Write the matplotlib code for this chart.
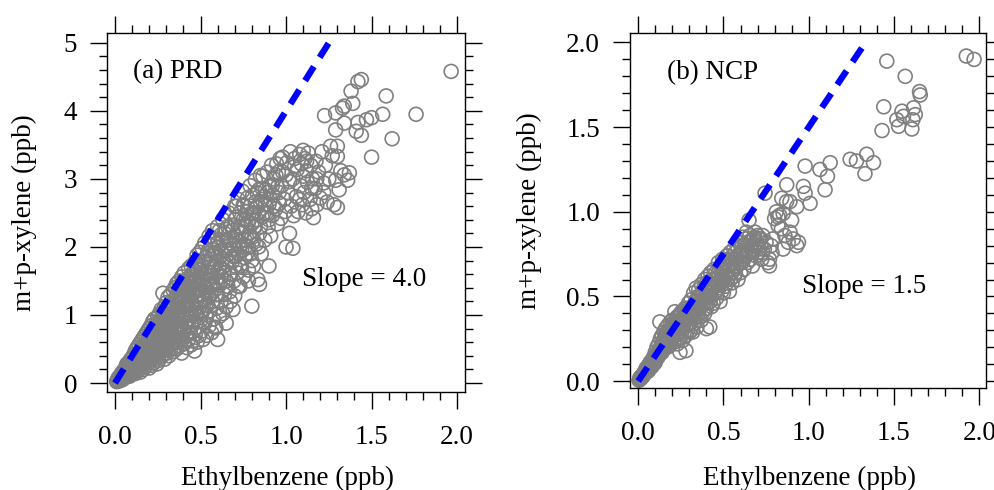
import matplotlib
matplotlib.use('Agg')
import matplotlib.pyplot as plt
from matplotlib.ticker import MultipleLocator, FormatStrFormatter

plt.rcParams['font.family'] = ['Liberation Serif', 'DejaVu Serif']

# (ethylbenzene, m+p-xylene) pairs, ppb
prd_points = [
    (0.01, 0.02), (0.015, 0.05), (0.02, 0.04), (0.02, 0.08), (0.025, 0.03), (0.03, 0.1),
    (0.03, 0.06), (0.035, 0.12), (0.04, 0.08), (0.04, 0.15), (0.045, 0.05), (0.045, 0.11),
    (0.05, 0.18), (0.05, 0.09), (0.012, 0.03), (0.028, 0.07), (0.038, 0.1), (0.048, 0.14),
    (0.055, 0.12), (0.06, 0.2), (0.06, 0.1), (0.065, 0.25), (0.07, 0.15), (0.07, 0.28),
    (0.075, 0.12), (0.075, 0.21), (0.08, 0.3), (0.08, 0.17), (0.085, 0.1), (0.085, 0.24),
    (0.09, 0.34), (0.09, 0.19), (0.095, 0.14), (0.095, 0.28), (0.1, 0.37), (0.1, 0.22),
    (0.1, 0.13), (0.058, 0.16), (0.068, 0.09), (0.078, 0.26), (0.088, 0.15), (0.098, 0.31),
    (0.105, 0.3), (0.105, 0.16), (0.11, 0.42), (0.11, 0.25), (0.115, 0.19), (0.115, 0.35),
    (0.12, 0.48), (0.12, 0.28), (0.12, 0.14), (0.125, 0.38), (0.125, 0.22), (0.13, 0.52),
    (0.13, 0.32), (0.13, 0.18), (0.135, 0.44), (0.135, 0.26), (0.14, 0.56), (0.14, 0.36),
    (0.14, 0.2), (0.145, 0.3), (0.145, 0.47), (0.15, 0.6), (0.15, 0.4), (0.15, 0.24),
    (0.148, 0.16), (0.155, 0.33), (0.155, 0.52), (0.16, 0.64), (0.16, 0.27), (0.16, 0.44),
    (0.165, 0.2), (0.165, 0.37), (0.17, 0.56), (0.17, 0.3), (0.17, 0.68), (0.175, 0.47),
    (0.175, 0.24), (0.18, 0.4), (0.18, 0.72), (0.18, 0.6), (0.185, 0.33), (0.185, 0.52),
    (0.19, 0.27), (0.19, 0.76), (0.19, 0.45), (0.195, 0.64), (0.195, 0.36), (0.2, 0.8),
    (0.2, 0.55), (0.2, 0.3), (0.2, 0.22), (0.205, 0.42), (0.205, 0.68), (0.21, 0.84),
    (0.21, 0.34), (0.21, 0.58), (0.215, 0.26), (0.215, 0.48), (0.22, 0.74), (0.22, 0.9),
    (0.22, 0.38), (0.225, 0.62), (0.225, 0.3), (0.23, 0.52), (0.23, 0.94), (0.23, 0.8),
    (0.235, 0.44), (0.235, 0.68), (0.24, 0.36), (0.24, 0.58), (0.24, 0.88), (0.245, 0.28),
    (0.245, 0.75), (0.25, 0.98), (0.25, 0.5), (0.25, 0.64), (0.25, 0.4), (0.255, 0.82),
    (0.255, 0.33), (0.26, 0.56), (0.26, 1.02), (0.26, 0.7), (0.265, 0.45), (0.265, 0.9),
    (0.27, 0.38), (0.27, 0.62), (0.27, 1.08), (0.275, 0.78), (0.275, 0.5), (0.28, 0.96),
    (0.28, 1.32), (0.28, 0.68), (0.28, 0.42), (0.285, 0.86), (0.285, 0.56), (0.29, 1.12),
    (0.29, 0.74), (0.29, 0.35), (0.295, 0.48), (0.295, 1.0), (0.3, 0.64), (0.3, 0.9),
    (0.3, 1.18), (0.3, 0.78), (0.305, 0.44), (0.305, 1.06), (0.31, 0.72), (0.31, 0.56),
    (0.31, 1.26), (0.315, 0.9), (0.315, 0.4), (0.32, 1.14), (0.32, 0.64), (0.32, 0.82),
    (0.325, 0.5), (0.325, 1.3), (0.33, 0.98), (0.33, 0.7), (0.33, 1.2), (0.335, 0.58),
    (0.335, 0.86), (0.34, 1.36), (0.34, 0.46), (0.34, 1.04), (0.345, 0.76), (0.345, 0.62),
    (0.35, 1.24), (0.35, 0.92), (0.35, 1.4), (0.35, 0.52), (0.355, 0.68), (0.355, 1.1),
    (0.36, 0.84), (0.36, 1.46), (0.36, 0.5), (0.365, 1.0), (0.365, 1.3), (0.37, 0.6),
    (0.37, 0.76), (0.37, 1.18), (0.375, 1.5), (0.375, 0.92), (0.38, 0.55), (0.38, 1.36),
    (0.38, 1.06), (0.385, 0.72), (0.385, 1.24), (0.39, 0.44), (0.39, 0.86), (0.39, 1.56),
    (0.395, 1.12), (0.395, 0.64), (0.4, 1.42), (0.4, 0.98), (0.4, 0.78), (0.4, 1.28),
    (0.405, 0.58), (0.405, 1.62), (0.41, 1.16), (0.41, 0.88), (0.415, 0.7), (0.415, 1.34),
    (0.42, 1.5), (0.42, 1.02), (0.42, 0.52), (0.425, 0.8), (0.425, 1.22), (0.43, 1.68),
    (0.43, 0.64), (0.43, 1.4), (0.435, 0.94), (0.435, 1.1), (0.44, 1.56), (0.44, 0.74),
    (0.44, 1.28), (0.445, 0.56), (0.445, 1.72), (0.45, 1.0), (0.45, 1.46), (0.45, 0.84),
    (0.45, 1.18), (0.455, 0.62), (0.455, 1.62), (0.46, 1.32), (0.46, 0.9), (0.465, 0.47),
    (0.465, 1.08), (0.47, 1.78), (0.47, 0.72), (0.47, 1.5), (0.475, 1.2), (0.475, 0.98),
    (0.48, 1.88), (0.48, 0.6), (0.48, 1.4), (0.485, 0.82), (0.485, 1.66), (0.49, 1.1),
    (0.49, 1.28), (0.495, 0.7), (0.495, 1.92), (0.5, 1.54), (0.5, 0.92), (0.5, 1.36),
    (0.5, 1.2), (0.505, 1.74), (0.505, 0.76), (0.51, 1.04), (0.51, 1.98), (0.515, 1.44),
    (0.515, 0.64), (0.52, 1.22), (0.52, 1.62), (0.525, 0.88), (0.525, 2.06), (0.53, 1.34),
    (0.53, 1.84), (0.535, 1.0), (0.535, 0.7), (0.54, 1.52), (0.54, 1.14), (0.545, 1.94),
    (0.545, 1.7), (0.55, 0.84), (0.55, 2.16), (0.55, 1.28), (0.555, 1.42), (0.555, 1.06),
    (0.56, 1.82), (0.56, 2.02), (0.565, 0.74), (0.565, 1.58), (0.57, 1.2), (0.57, 2.24),
    (0.575, 0.94), (0.575, 1.7), (0.58, 1.36), (0.58, 1.92), (0.585, 0.82), (0.585, 2.1),
    (0.59, 1.5), (0.59, 0.81), (0.595, 1.1), (0.595, 1.78), (0.6, 2.3), (0.6, 0.64),
    (0.6, 1.3), (0.6, 1.62), (0.605, 2.0), (0.61, 1.44), (0.61, 0.98), (0.615, 1.86),
    (0.62, 2.18), (0.62, 1.2), (0.625, 1.68), (0.63, 2.4), (0.63, 1.02), (0.635, 1.52),
    (0.64, 1.96), (0.64, 1.3), (0.645, 2.26), (0.65, 0.88), (0.65, 1.74), (0.65, 1.12),
    (0.655, 2.1), (0.66, 1.42), (0.665, 2.5), (0.67, 1.6), (0.67, 1.9), (0.675, 1.2),
    (0.68, 2.32), (0.685, 1.78), (0.69, 1.08), (0.69, 2.02), (0.695, 1.5), (0.7, 2.6),
    (0.7, 1.28), (0.7, 2.16), (0.705, 1.86), (0.71, 2.44), (0.715, 1.62), (0.72, 1.42),
    (0.72, 2.7), (0.725, 2.08), (0.73, 1.72), (0.735, 2.3), (0.74, 1.96), (0.745, 2.82),
    (0.75, 1.56), (0.75, 2.22), (0.73, 1.42), (0.755, 2.6), (0.76, 1.84), (0.765, 2.4),
    (0.77, 2.02), (0.775, 2.72), (0.78, 1.66), (0.785, 2.2), (0.79, 2.9), (0.795, 1.9),
    (0.8, 1.13), (0.8, 2.5), (0.8, 2.14), (0.78, 1.5), (0.805, 2.76), (0.81, 1.72),
    (0.815, 2.3), (0.82, 2.98), (0.825, 2.04), (0.83, 2.58), (0.835, 1.52), (0.84, 2.84),
    (0.845, 1.45), (0.845, 2.2), (0.85, 2.66), (0.85, 3.05), (0.855, 1.9), (0.86, 2.44),
    (0.865, 3.04), (0.87, 2.74), (0.875, 2.1), (0.88, 2.84), (0.885, 2.5), (0.89, 3.1),
    (0.895, 2.3), (0.9, 1.72), (0.9, 2.62), (0.905, 2.9), (0.91, 2.16), (0.915, 3.2),
    (0.92, 2.46), (0.925, 2.76), (0.93, 3.0), (0.94, 2.56), (0.945, 3.22), (0.95, 2.34),
    (0.95, 2.88), (0.955, 3.1), (0.96, 2.64), (0.965, 3.3), (0.97, 2.42), (0.975, 2.9),
    (0.98, 3.32), (0.99, 2.7), (1.0, 2.0), (1.0, 3.06), (0.995, 2.52), (1.005, 3.24),
    (1.01, 2.8), (1.02, 2.2), (1.025, 3.4), (1.03, 2.6), (1.04, 1.98), (1.04, 3.0),
    (1.045, 2.46), (1.05, 3.3), (1.06, 2.74), (1.065, 3.14), (1.07, 2.52), (1.08, 3.36),
    (1.085, 2.9), (1.09, 3.22), (1.095, 2.62), (1.1, 3.04), (1.1, 3.42), (1.105, 2.8),
    (1.11, 3.3), (1.115, 2.5), (1.12, 3.12), (1.125, 2.95), (1.13, 3.38), (1.14, 2.7),
    (1.145, 3.2), (1.15, 2.56), (1.155, 3.0), (1.16, 2.43), (1.17, 2.86), (1.175, 3.26),
    (1.18, 2.62), (1.19, 3.1), (1.2, 2.72), (1.21, 3.4), (1.22, 2.94), (1.23, 3.2),
    (1.24, 2.66), (1.25, 3.0), (1.27, 3.34), (1.28, 2.62), (1.29, 2.98), (1.3, 2.58),
    (1.31, 2.84), (1.32, 3.12), (1.34, 3.06), (1.36, 2.98), (1.37, 3.09), (1.26, 3.48),
    (1.30, 3.48), (1.30, 3.33), (1.29, 3.72), (1.225, 3.93), (1.29, 3.97), (1.33, 4.04),
    (1.34, 4.07), (1.39, 4.11), (1.34, 3.82), (1.42, 3.83), (1.47, 3.87), (1.50, 3.90),
    (1.565, 3.95), (1.76, 3.95), (1.41, 3.70), (1.44, 3.64), (1.62, 3.59), (1.50, 3.32),
    (1.38, 4.29), (1.42, 4.43), (1.44, 4.46), (1.585, 4.22), (1.965, 4.58),
    (0.16, 0.5), (0.17, 0.42), (0.18, 0.5), (0.19, 0.58), (0.2, 0.68), (0.21, 0.72),
    (0.22, 0.56), (0.22, 0.66), (0.23, 0.6), (0.24, 0.7), (0.24, 0.48), (0.25, 0.86),
    (0.26, 0.78), (0.26, 0.62), (0.27, 0.86), (0.27, 0.72), (0.28, 0.56), (0.28, 1.04),
    (0.29, 0.88), (0.29, 0.62), (0.3, 0.98), (0.3, 0.52), (0.31, 1.12), (0.31, 0.84),
    (0.32, 0.96), (0.32, 0.72), (0.33, 1.08), (0.33, 0.8), (0.34, 1.16), (0.34, 0.9),
    (0.35, 0.8), (0.35, 1.06), (0.36, 1.2), (0.36, 0.94), (0.37, 1.38), (0.37, 1.06),
    (0.38, 0.82), (0.38, 1.2), (0.39, 1.3), (0.39, 1.0), (0.4, 1.5), (0.4, 1.14),
    (0.41, 1.26), (0.41, 1.42), (0.42, 0.9), (0.42, 1.14), (0.43, 1.3), (0.43, 1.54),
    (0.44, 1.02), (0.44, 1.4), (0.45, 1.6), (0.45, 1.3), (0.46, 1.5), (0.46, 1.14),
    (0.47, 1.38), (0.47, 1.64), (0.48, 1.04), (0.48, 1.28), (0.49, 1.5), (0.49, 1.76),
    (0.5, 1.04), (0.5, 1.66), (0.51, 1.3), (0.51, 1.52), (0.52, 1.78), (0.52, 1.4),
    (0.53, 1.14), (0.53, 1.6), (0.54, 1.9), (0.54, 1.32), (0.55, 1.5), (0.55, 1.78),
    (0.56, 1.3), (0.56, 1.62), (0.57, 1.96), (0.57, 1.44), (0.58, 1.7), (0.58, 2.12),
    (0.59, 1.3), (0.59, 1.9), (0.6, 1.48), (0.6, 2.06), (0.61, 1.7), (0.61, 2.24),
    (0.62, 1.56), (0.62, 1.94), (0.63, 1.82), (0.63, 2.1), (0.64, 1.66), (0.64, 2.2),
    (0.65, 1.96), (0.65, 1.5), (0.66, 2.3), (0.66, 1.8), (0.67, 2.06), (0.67, 1.34),
    (0.68, 1.96), (0.68, 1.6), (0.69, 2.24), (0.69, 1.86), (0.7, 2.4), (0.7, 1.72),
    (0.71, 2.1), (0.71, 2.6), (0.72, 1.9), (0.72, 2.3), (0.73, 2.5), (0.73, 2.0),
    (0.74, 2.2), (0.74, 1.7), (0.75, 2.4), (0.75, 2.62), (0.76, 2.1), (0.76, 2.3),
    (0.77, 2.52), (0.77, 1.9), (0.78, 2.36), (0.78, 2.0), (0.79, 2.6), (0.79, 2.16),
    (0.8, 2.34), (0.8, 1.8), (0.81, 2.5), (0.81, 2.1), (0.82, 2.66), (0.82, 2.3),
    (0.83, 2.4), (0.83, 2.8), (0.84, 2.0), (0.84, 2.5), (0.85, 2.3), (0.86, 2.7),
    (0.86, 2.86), (0.87, 2.5), (0.88, 2.62), (0.89, 2.8), (0.9, 2.4), (0.91, 2.7),
    (0.92, 2.9), (0.93, 2.6), (0.94, 3.06), (0.96, 2.8), (0.98, 3.1), (1.02, 2.96),
    (1.05, 3.18), (1.08, 2.7), (1.12, 3.26), (1.15, 2.86), (1.18, 3.0), (1.22, 2.8),
]

ncp_points = [
    (0.005, 0.005), (0.01, 0.01), (0.01, 0.02), (0.015, 0.015), (0.02, 0.03), (0.02, 0.02),
    (0.025, 0.035), (0.03, 0.04), (0.03, 0.03), (0.035, 0.05), (0.04, 0.06), (0.04, 0.045),
    (0.045, 0.07), (0.05, 0.06), (0.05, 0.08), (0.055, 0.075), (0.06, 0.09), (0.06, 0.06),
    (0.065, 0.1), (0.07, 0.08), (0.07, 0.11), (0.075, 0.095), (0.08, 0.12), (0.08, 0.085),
    (0.085, 0.13), (0.09, 0.1), (0.09, 0.14), (0.095, 0.12), (0.1, 0.15), (0.1, 0.11),
    (0.1, 0.17), (0.105, 0.13), (0.11, 0.16), (0.11, 0.2), (0.115, 0.14), (0.12, 0.18),
    (0.12, 0.22), (0.125, 0.16), (0.127, 0.35), (0.13, 0.2), (0.13, 0.25), (0.135, 0.18),
    (0.14, 0.22), (0.14, 0.27), (0.145, 0.2), (0.15, 0.24), (0.15, 0.29), (0.15, 0.19),
    (0.155, 0.22), (0.16, 0.27), (0.16, 0.31), (0.165, 0.24), (0.17, 0.2), (0.17, 0.29),
    (0.175, 0.33), (0.18, 0.26), (0.18, 0.23), (0.185, 0.3), (0.19, 0.35), (0.19, 0.27),
    (0.195, 0.24), (0.2, 0.32), (0.2, 0.28), (0.2, 0.36), (0.205, 0.26), (0.21, 0.3),
    (0.215, 0.41), (0.215, 0.34), (0.22, 0.27), (0.225, 0.37), (0.23, 0.31), (0.23, 0.22),
    (0.235, 0.35), (0.24, 0.39), (0.24, 0.29), (0.245, 0.33), (0.25, 0.36), (0.25, 0.26),
    (0.245, 0.17), (0.255, 0.41), (0.26, 0.3), (0.265, 0.38), (0.27, 0.34), (0.28, 0.18),
    (0.275, 0.43), (0.28, 0.37), (0.28, 0.27), (0.285, 0.4), (0.29, 0.33), (0.295, 0.46),
    (0.3, 0.38), (0.3, 0.29), (0.3, 0.42), (0.305, 0.34), (0.31, 0.48), (0.315, 0.4),
    (0.32, 0.29), (0.32, 0.44), (0.325, 0.52), (0.33, 0.37), (0.335, 0.47), (0.34, 0.42),
    (0.34, 0.55), (0.345, 0.32), (0.35, 0.45), (0.35, 0.5), (0.35, 0.39), (0.355, 0.54),
    (0.36, 0.43), (0.365, 0.48), (0.37, 0.36), (0.37, 0.57), (0.375, 0.51), (0.38, 0.45),
    (0.385, 0.55), (0.39, 0.4), (0.39, 0.6), (0.395, 0.49), (0.4, 0.31), (0.4, 0.53),
    (0.4, 0.58), (0.405, 0.46), (0.41, 0.62), (0.415, 0.52), (0.42, 0.32), (0.42, 0.57),
    (0.425, 0.64), (0.43, 0.5), (0.435, 0.6), (0.44, 0.46), (0.44, 0.55), (0.445, 0.66),
    (0.45, 0.52), (0.45, 0.6), (0.455, 0.64), (0.46, 0.49), (0.465, 0.58), (0.47, 0.7),
    (0.47, 0.54), (0.475, 0.62), (0.48, 0.47), (0.485, 0.67), (0.49, 0.57), (0.495, 0.72),
    (0.5, 0.6), (0.5, 0.52), (0.5, 0.66), (0.505, 0.7), (0.51, 0.56), (0.515, 0.64),
    (0.52, 0.74), (0.525, 0.6), (0.53, 0.68), (0.535, 0.53), (0.54, 0.76), (0.545, 0.64),
    (0.55, 0.72), (0.55, 0.58), (0.555, 0.66), (0.56, 0.78), (0.565, 0.62), (0.57, 0.72),
    (0.575, 0.68), (0.58, 0.8), (0.585, 0.6), (0.59, 0.75), (0.595, 0.7), (0.6, 0.64),
    (0.6, 0.82), (0.605, 0.76), (0.61, 0.7), (0.615, 0.85), (0.62, 0.66), (0.625, 0.8),
    (0.63, 0.74), (0.635, 0.88), (0.64, 0.7), (0.645, 0.82), (0.65, 0.76), (0.65, 0.95),
    (0.655, 0.86), (0.66, 0.72), (0.665, 0.8), (0.67, 0.68), (0.675, 0.84), (0.68, 0.78),
    (0.685, 0.88), (0.69, 0.74), (0.695, 0.82), (0.7, 0.86), (0.7, 0.8), (0.705, 0.76),
    (0.71, 0.84), (0.72, 0.8), (0.725, 0.72), (0.73, 0.86), (0.74, 0.78), (0.744, 1.11),
    (0.75, 0.82), (0.76, 0.7), (0.77, 0.68), (0.77, 0.72), (0.78, 0.8), (0.785, 0.76),
    (0.79, 0.84), (0.8, 0.96), (0.81, 1.0), (0.82, 0.92), (0.82, 0.97), (0.83, 0.98),
    (0.84, 0.9), (0.842, 1.08), (0.85, 0.78), (0.85, 0.99), (0.86, 0.86), (0.871, 1.16),
    (0.87, 1.06), (0.89, 1.06), (0.88, 0.82), (0.89, 0.88), (0.9, 0.95), (0.91, 0.84),
    (0.93, 1.03), (0.93, 0.8), (0.94, 0.82), (0.969, 1.15), (0.979, 1.11), (0.979, 1.27),
    (1.008, 1.05), (1.066, 1.25), (1.11, 1.21), (1.126, 1.29), (1.096, 1.13), (1.243, 1.31),
    (1.28, 1.30), (1.34, 1.34), (1.38, 1.29), (1.33, 1.225), (1.43, 1.48), (1.44, 1.62),
    (1.458, 1.89), (1.566, 1.80), (1.65, 1.71), (1.654, 1.69), (1.517, 1.544), (1.547, 1.594),
    (1.556, 1.564), (1.527, 1.505), (1.615, 1.614), (1.625, 1.574), (1.611, 1.544), (1.605, 1.489),
    (1.924, 1.92), (1.97, 1.90),
    (0.12, 0.15), (0.13, 0.17), (0.14, 0.17), (0.15, 0.21), (0.16, 0.2), (0.165, 0.28),
    (0.17, 0.24), (0.18, 0.3), (0.185, 0.21), (0.19, 0.31), (0.2, 0.25), (0.21, 0.35),
    (0.21, 0.23), (0.22, 0.32), (0.23, 0.28), (0.23, 0.38), (0.24, 0.26), (0.25, 0.31),
    (0.25, 0.4), (0.26, 0.35), (0.26, 0.24), (0.27, 0.4), (0.27, 0.29), (0.28, 0.33),
    (0.29, 0.43), (0.29, 0.3), (0.3, 0.34), (0.31, 0.37), (0.31, 0.3), (0.32, 0.4),
    (0.33, 0.44), (0.33, 0.34), (0.34, 0.38), (0.35, 0.42), (0.36, 0.5), (0.36, 0.38),
    (0.37, 0.46), (0.38, 0.52), (0.38, 0.41), (0.39, 0.46), (0.4, 0.43), (0.41, 0.5),
    (0.41, 0.56), (0.42, 0.47), (0.43, 0.56), (0.43, 0.44), (0.44, 0.6), (0.45, 0.56),
    (0.46, 0.6), (0.46, 0.53), (0.47, 0.64), (0.48, 0.58), (0.49, 0.62), (0.49, 0.53),
    (0.5, 0.7), (0.51, 0.62), (0.52, 0.58), (0.52, 0.68), (0.53, 0.72), (0.54, 0.6),
    (0.54, 0.68), (0.55, 0.64), (0.56, 0.7), (0.57, 0.76), (0.57, 0.64), (0.58, 0.68),
    (0.59, 0.82), (0.6, 0.74), (0.61, 0.8), (0.62, 0.72), (0.63, 0.84), (0.64, 0.78),
    (0.66, 0.83), (0.67, 0.76), (0.68, 0.85), (0.69, 0.8), (0.71, 0.78), (0.72, 0.84),
    (0.73, 0.76),
]

panels = ['(a) PRD', '(b) NCP']
slopes = [4.0, 1.5]
fit_x_end = [1.25, 1.333]
slope_text = ['Slope = 4.0', 'Slope = 1.5']

fig = plt.figure(figsize=(9.95, 4.9), dpi=100)
ax1 = fig.add_axes([0.1075, 0.200, 0.360, 0.733])
ax2 = fig.add_axes([0.633, 0.208, 0.358, 0.725])

for ax, pts, name, k, xe in zip([ax1, ax2], [prd_points, ncp_points], panels,
                                slopes, fit_x_end):
    xs = [p[0] for p in pts]
    ys = [p[1] for p in pts]
    ax.scatter(xs, ys, s=100, facecolors='none', edgecolors='#808080', linewidths=1.2, zorder=2)
    ax.plot([0.0, xe], [0.0, k * xe], color='#0000ff', lw=4.6, dashes=(2.6, 1.7),
            solid_capstyle='butt', dash_capstyle='butt', zorder=3)
    ax.set_xlabel('Ethylbenzene (ppb)', fontsize=19.5)
    ax.set_ylabel('m+p-xylene (ppb)', fontsize=19.5)
    ax.xaxis.set_major_locator(MultipleLocator(0.5))
    ax.xaxis.set_minor_locator(MultipleLocator(0.1))
    ax.xaxis.set_major_formatter(FormatStrFormatter('%.1f'))
    ax.tick_params(which='both', direction='out', top=True, right=True, width=1.0,
                   labelsize=19.5, colors='black')
    ax.tick_params(which='major', length=12.5)
    ax.tick_params(which='minor', length=6)
    ax.tick_params(axis='x', which='major', pad=11)
    ax.tick_params(axis='y', which='major', pad=9)
    for sp in ax.spines.values():
        sp.set_linewidth(1.0)

ax1.set_xlim(-0.047, 2.047)
ax1.set_ylim(-0.132, 5.147)
ax1.yaxis.set_major_locator(MultipleLocator(1))
ax1.yaxis.set_minor_locator(MultipleLocator(0.2))
ax1.yaxis.set_major_formatter(FormatStrFormatter('%d'))
ax1.text(0.073, 0.891, panels[0], transform=ax1.transAxes, fontsize=19.5, va='center')
ax1.text(0.545, 0.312, slope_text[0], transform=ax1.transAxes, fontsize=19.5, va='center')
ax1.xaxis.set_label_coords(0.503, -0.205)
ax1.yaxis.set_label_coords(-0.196, 0.5)

ax2.set_xlim(-0.049, 2.04)
ax2.set_ylim(-0.041, 2.057)
ax2.yaxis.set_major_locator(MultipleLocator(0.5))
ax2.yaxis.set_minor_locator(MultipleLocator(0.1))
ax2.yaxis.set_major_formatter(FormatStrFormatter('%.1f'))
ax2.text(0.104, 0.887, panels[1], transform=ax2.transAxes, fontsize=19.5, va='center')
ax2.text(0.483, 0.285, slope_text[1], transform=ax2.transAxes, fontsize=19.5, va='center')
ax2.xaxis.set_label_coords(0.503, -0.218)
ax2.yaxis.set_label_coords(-0.247, 0.5)

fig.savefig('out.png', dpi=100)
